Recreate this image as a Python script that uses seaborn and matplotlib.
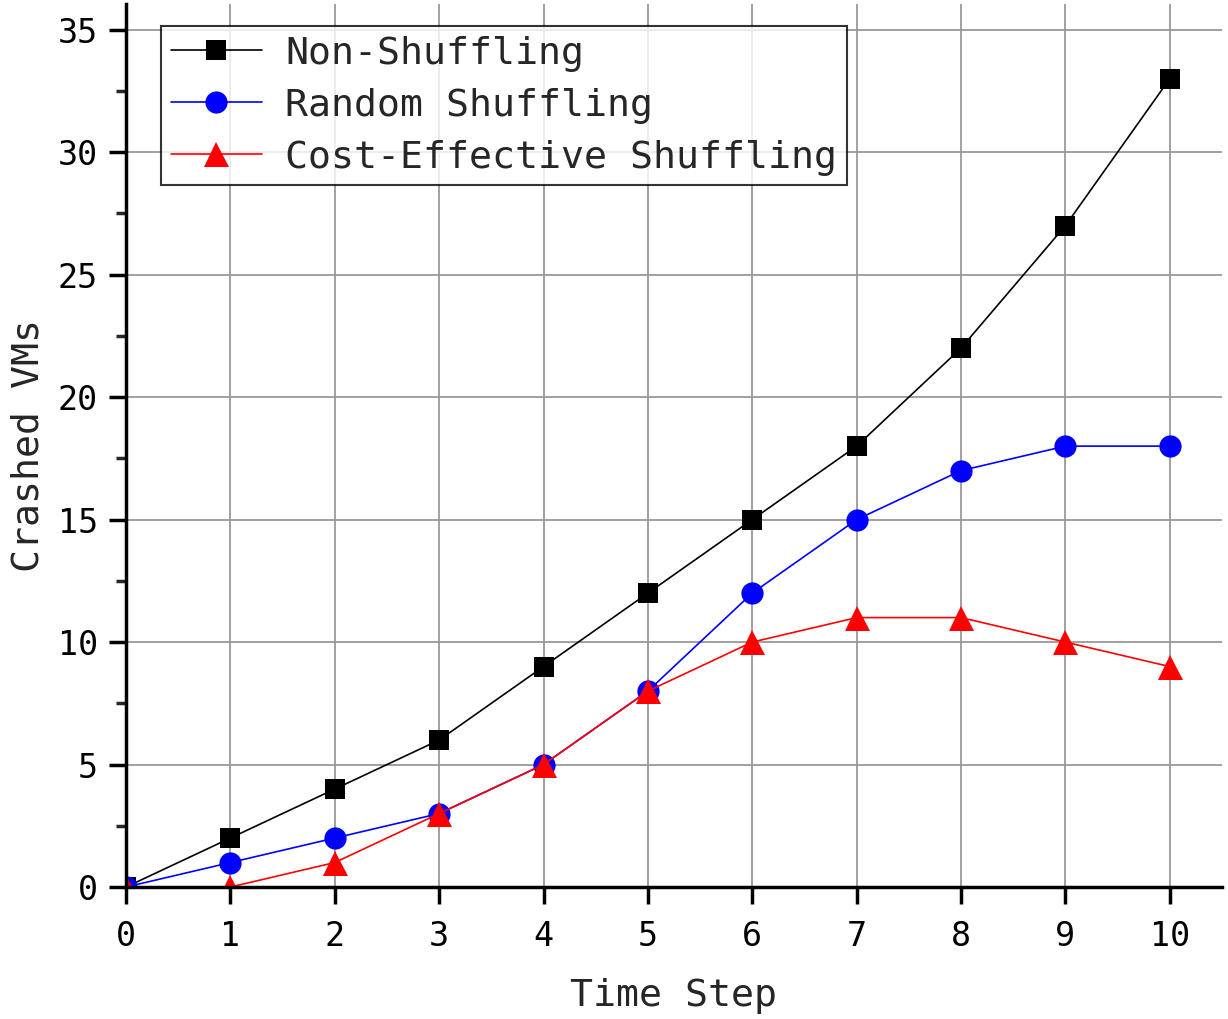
import numpy as np
import pandas as pd
import seaborn as sns
import matplotlib
matplotlib.use("Agg")
import matplotlib.pyplot as plt
from matplotlib.ticker import MultipleLocator

steps = [0, 1, 2, 3, 4, 5, 6, 7, 8, 9, 10]
non_shuffling = [0, 2, 4, 6, 9, 12, 15, 18, 22, 27, 33]
random_shuffling = [0, 1, 2, 3, 5, 8, 12, 15, 17, 18, 18]
cost_effective = [0, 0, 1, 3, 5, 8, 10, 11, 11, 10, 9]

labels = ["Non-Shuffling", "Random Shuffling", "Cost-Effective Shuffling"]
colors = ["black", "blue", "red"]
markers = ["s", "o", "^"]
msizes = [14, 16, 18]

sns.set_style("white")
plt.rcParams["font.family"] = ["DejaVu Sans Mono"]

fig = plt.figure(figsize=(12.28, 10.19), dpi=100)
ax = fig.add_axes([0.1026, 0.1295, 0.8925, 0.8666])

series = [non_shuffling, random_shuffling, cost_effective]
for vals, lab, c, m, ms in zip(series, labels, colors, markers, msizes):
    df = pd.DataFrame({"step": steps, "vms": vals})
    sns.lineplot(data=df, x="step", y="vms", ax=ax, color=c, marker=m,
                 markersize=ms, markeredgewidth=0, linewidth=1.2, label=lab)

ax.set_xlim(0, 10.5)
ax.set_ylim(0, 36.05)
ax.xaxis.set_major_locator(MultipleLocator(1))
ax.yaxis.set_major_locator(MultipleLocator(5))
ax.yaxis.set_minor_locator(MultipleLocator(2.5))
ax.grid(True, which="major", color="#999999", linewidth=1.3)
ax.set_axisbelow(True)

for s in ["top", "right"]:
    ax.spines[s].set_visible(False)
for s in ["left", "bottom"]:
    ax.spines[s].set_linewidth(2.5)
    ax.spines[s].set_color("black")

ax.tick_params(axis="both", which="major", direction="out", length=12, width=2.5,
               labelsize=24, colors="black", bottom=True, left=True)
ax.tick_params(axis="x", which="major", pad=12)
ax.tick_params(axis="y", which="major", pad=8)
ax.tick_params(axis="y", which="minor", direction="out", length=7, width=2.5, left=True)

ax.set_xlabel("Time Step", fontsize=27.5, labelpad=18)
ax.set_ylabel("Crashed VMs", fontsize=27.5, labelpad=8)

leg = ax.legend(loc="upper left", bbox_to_anchor=(0.032, 0.975), borderaxespad=0,
                fontsize=27.5, frameon=True, fancybox=False, edgecolor="black",
                handlelength=2.4, handletextpad=0.6, labelspacing=0.42,
                borderpad=0.25)
leg.get_frame().set_linewidth(1.5)

fig.savefig("out.png", dpi=100)
